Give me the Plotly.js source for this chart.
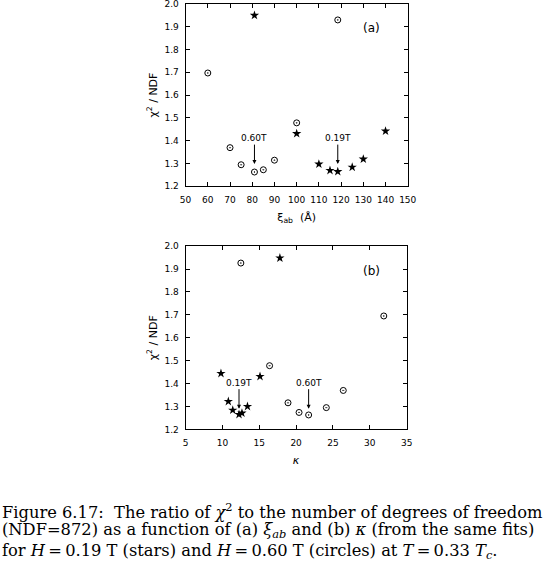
<!DOCTYPE html>
<html>
<head>
<meta charset="utf-8">
<script src="https://cdn.plot.ly/plotly-3.0.1.min.js"></script>
<style>
  html, body { margin: 0; padding: 0; background: #fff; }
  #myDiv { width: 554px; height: 571px; }
</style>
</head>
<body>
<div id="myDiv"></div>
<script>
// panel (a): chi2/NDF vs xi_ab (Angstrom)
var xiCircles = [60, 70, 75, 81, 85, 90, 100, 118.5];
var chiCirclesA = [1.697, 1.369, 1.294, 1.262, 1.272, 1.314, 1.478, 1.930];
var xiStars = [81, 100, 110, 115, 118.5, 125, 130, 140];
var chiStarsA = [1.950, 1.431, 1.297, 1.269, 1.264, 1.283, 1.319, 1.442];

// panel (b): chi2/NDF vs kappa
var kappaCircles = [12.5, 16.4, 18.9, 20.4, 21.7, 24.1, 26.4, 31.9];
var chiCirclesB = [1.926, 1.478, 1.316, 1.274, 1.263, 1.295, 1.370, 1.695];
var kappaStars = [17.8, 9.8, 15.1, 10.8, 11.4, 12.25, 12.65, 13.4];
var chiStarsB = [1.948, 1.444, 1.431, 1.322, 1.284, 1.265, 1.271, 1.300];

var xTicksA = [50, 60, 70, 80, 90, 100, 110, 120, 130, 140, 150];
var xTicksB = [5, 10, 15, 20, 25, 30, 35];
var yTicks = [1.2, 1.3, 1.4, 1.5, 1.6, 1.7, 1.8, 1.9, 2.0];
var yTickText = ['1.2', '1.3', '1.4', '1.5', '1.6', '1.7', '1.8', '1.9', '2.0'];

var captionLines = [
  'Figure 6.17:  The ratio of <i>χ</i><sup>2</sup> to the number of degrees of freedom',
  '(NDF=872) as a function of (a) <i>ξ<sub>ab</sub></i> and (b) <i>κ</i> (from the same fits)',
  'for <i>H</i>\u2009=\u20090.19 T (stars) and <i>H</i>\u2009=\u20090.60 T (circles) at <i>T</i>\u2009=\u20090.33 <i>T<sub>c</sub></i>.'
];

var circ = {symbol: 'circle-dot', size: 6, color: 'rgba(0,0,0,0)', line: {color: '#000', width: 1}};
var star = {symbol: 'star', size: 7, color: '#000', line: {width: 0}};

var data = [
  {x: xiCircles, y: chiCirclesA, xaxis: 'x', yaxis: 'y', mode: 'markers', marker: circ, type: 'scatter'},
  {x: xiStars, y: chiStarsA, xaxis: 'x', yaxis: 'y', mode: 'markers', marker: star, type: 'scatter'},
  {x: kappaCircles, y: chiCirclesB, xaxis: 'x2', yaxis: 'y2', mode: 'markers', marker: circ, type: 'scatter'},
  {x: kappaStars, y: chiStarsB, xaxis: 'x2', yaxis: 'y2', mode: 'markers', marker: star, type: 'scatter'}
];

function axisStyle(extra) {
  var a = {
    showgrid: false, zeroline: false,
    showline: true, mirror: 'ticks', linecolor: '#000', linewidth: 1,
    ticks: 'inside', ticklen: 4, tickcolor: '#000', tickwidth: 1,
    tickfont: {family: 'DejaVu Sans', size: 9, color: '#000'},
    ticklabeloverflow: 'allow',
    tickmode: 'array'
  };
  for (var k in extra) a[k] = extra[k];
  return a;
}

var titleFont = {family: 'DejaVu Sans', size: 11, color: '#000'};
var arrowFont = {family: 'DejaVu Sans', size: 9, color: '#000'};

var annotations = [
  {xref: 'x', yref: 'y', x: 133.8, y: 1.893, text: '(a)', showarrow: false, font: {family: 'DejaVu Sans', size: 12, color: '#000'}},
  {xref: 'x2', yref: 'y2', x: 30.2, y: 1.892, text: '(b)', showarrow: false, font: {family: 'DejaVu Sans', size: 12, color: '#000'}},
  {xref: 'x', yref: 'y', x: 81, y: 1.297, axref: 'x', ayref: 'y', ax: 81, ay: 1.411, text: '0.60T',
   showarrow: true, arrowhead: 2, arrowsize: 0.8, arrowwidth: 1, arrowcolor: '#000', font: arrowFont},
  {xref: 'x', yref: 'y', x: 118.5, y: 1.297, axref: 'x', ayref: 'y', ax: 118.5, ay: 1.411, text: '0.19T',
   showarrow: true, arrowhead: 2, arrowsize: 0.8, arrowwidth: 1, arrowcolor: '#000', font: arrowFont},
  {xref: 'x2', yref: 'y2', x: 12.25, y: 1.29, axref: 'x2', ayref: 'y2', ax: 12.25, ay: 1.404, text: '0.19T',
   showarrow: true, arrowhead: 2, arrowsize: 0.8, arrowwidth: 1, arrowcolor: '#000', font: arrowFont},
  {xref: 'x2', yref: 'y2', x: 21.7, y: 1.29, axref: 'x2', ayref: 'y2', ax: 21.7, ay: 1.404, text: '0.60T',
   showarrow: true, arrowhead: 2, arrowsize: 0.8, arrowwidth: 1, arrowcolor: '#000', font: arrowFont}
];

// caption below the plots
var captionY = [510.5, 530.5, 551];
for (var i = 0; i < captionLines.length; i++) {
  annotations.push({
    xref: 'paper', yref: 'paper', x: 0, y: 1 - captionY[i] / 571,
    xanchor: 'left', yanchor: 'middle', showarrow: false, text: captionLines[i],
    font: {family: 'DejaVu Serif', size: 16.3, color: '#000'}
  });
}

var layout = {
  width: 554, height: 571,
  margin: {l: 0, r: 0, t: 0, b: 0},
  paper_bgcolor: '#fff', plot_bgcolor: '#fff',
  showlegend: false,
  xaxis: axisStyle({domain: [0.335, 0.736], range: [50, 150], tickvals: xTicksA, anchor: 'y',
    ticklabelstandoff: 5, title: {text: 'ξ<sub>ab</sub>  (Å)', font: titleFont, standoff: 9}}),
  yaxis: axisStyle({domain: [0.674, 0.993], range: [1.2, 2.0], tickvals: yTicks, ticktext: yTickText, anchor: 'x',
    ticklabelstandoff: 4, title: {text: 'χ<sup>2</sup> / NDF', font: titleFont, standoff: 4}}),
  xaxis2: axisStyle({domain: [0.335, 0.734], range: [5, 35], tickvals: xTicksB, anchor: 'y2',
    ticklabelstandoff: 5, title: {text: '<i>κ</i>', font: titleFont, standoff: 9}}),
  yaxis2: axisStyle({domain: [0.248, 0.569], range: [1.2, 2.0], tickvals: yTicks, ticktext: yTickText, anchor: 'x2',
    ticklabelstandoff: 4, title: {text: 'χ<sup>2</sup> / NDF', font: titleFont, standoff: 4}}),
  annotations: annotations
};

Plotly.newPlot('myDiv', data, layout, {staticPlot: true});
</script>
</body>
</html>
